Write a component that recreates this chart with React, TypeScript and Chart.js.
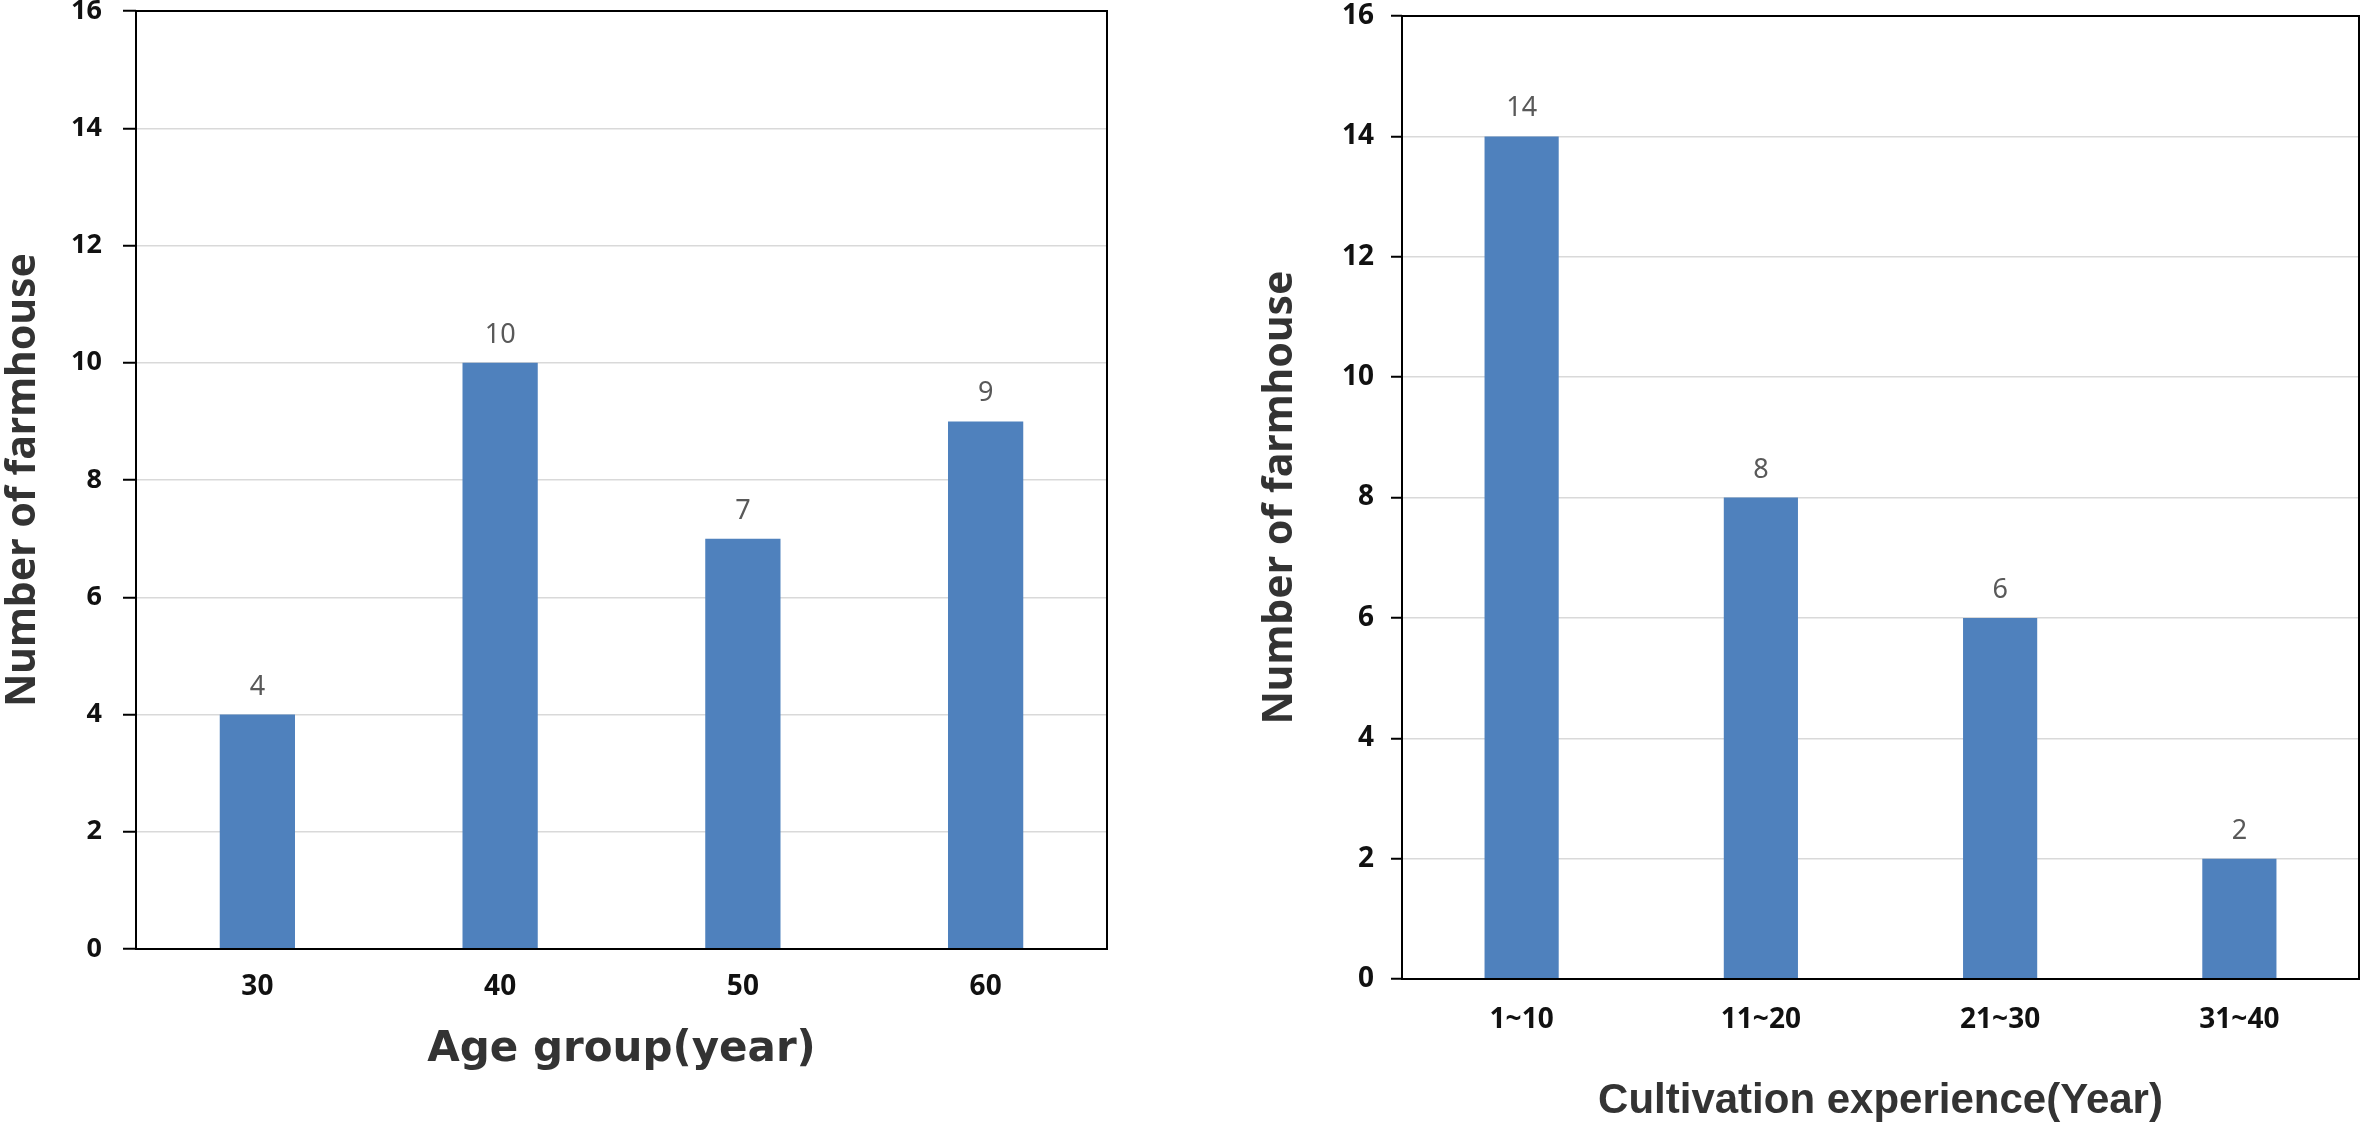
import React, { useEffect, useRef } from 'react';
import { Chart, registerables } from 'chart.js';

Chart.register(...registerables);

// ---- data ----
const ageCategories = ['30', '40', '50', '60'];
const ageCounts = [4, 10, 7, 9];
const expCategories = ['1~10', '11~20', '21~30', '31~40'];
const expCounts = [14, 8, 6, 2];
const yMin = 0;
const yMax = 16;
const yStep = 2;

const BAR_COLOR = '#4f81bd';

const boxPlugin = {
  id: 'plotBox',
  afterDraw(chart: any) {
    const { ctx, chartArea } = chart;
    const { left, top, right, bottom } = chartArea;
    ctx.save();
    ctx.strokeStyle = '#000';
    ctx.lineWidth = 2;
    ctx.strokeRect(left, top, right - left, bottom - top);
    ctx.restore();
  },
};

const valueLabelPlugin = {
  id: 'valueLabels',
  afterDatasetsDraw(chart: any) {
    const { ctx } = chart;
    const meta = chart.getDatasetMeta(0);
    const data = chart.data.datasets[0].data;
    ctx.save();
    ctx.fillStyle = '#595959';
    ctx.font = '27px "Noto Sans"';
    ctx.textAlign = 'center';
    ctx.textBaseline = 'alphabetic';
    meta.data.forEach((bar: any, i: number) => {
      ctx.fillText(String(data[i]), bar.x, bar.y - 20);
    });
    ctx.restore();
  },
};

type PanelProps = {
  left: number;
  width: number;
  height: number;
  labels: string[];
  values: number[];
  xTitle: string;
  yTitle: string;
  plotTop: number;
  plotLeft: number;
  plotRight: number;
  plotBottom: number;
  tickLen: number;
  yTickPad: number;
  yTickSize: number;
  xTickPad: number;
  yTitlePad: number;
  xTitlePad: number;
  xTitleFont: string;
};

function Panel(p: PanelProps) {
  const ref = useRef<HTMLCanvasElement | null>(null);
  useEffect(() => {
    if (!ref.current) return;
    const chart = new Chart(ref.current, {
      type: 'bar',
      data: {
        labels: p.labels,
        datasets: [
          {
            data: p.values,
            backgroundColor: BAR_COLOR,
            borderWidth: 0,
            categoryPercentage: 1,
            barPercentage: 0.31,
          },
        ],
      },
      options: {
        animation: false,
        responsive: true,
        maintainAspectRatio: false,
        devicePixelRatio: 1,
        layout: {
          padding: { left: 0, top: p.plotTop, right: p.width - p.plotRight, bottom: 0 },
        },
        plugins: {
          legend: { display: false },
          tooltip: { enabled: false },
        },
        scales: {
          x: {
            grid: { display: false, drawTicks: false },
            border: { display: false },
            ticks: {
              color: '#111',
              padding: p.xTickPad,
              font: { family: '"Noto Sans"', size: 28, weight: 'bold' },
            },
            title: {
              display: true,
              text: p.xTitle,
              color: '#333',
              padding: { top: 0, bottom: p.xTitlePad },
              font: { family: p.xTitleFont, size: 42, weight: 'bold', lineHeight: 1.2 },
            },
            afterFit: (scale: any) => {
              scale.height = p.height - p.plotBottom;
              scale.paddingLeft = 0;
              scale.paddingRight = 0;
            },
          },
          y: {
            min: yMin,
            max: yMax,
            ticks: {
              stepSize: yStep,
              color: '#111',
              padding: p.yTickPad,
              font: { family: '"Noto Sans"', size: p.yTickSize, weight: 'bold' },
            },
            grid: {
              color: '#d9d9d9',
              lineWidth: 1.5,
              tickColor: '#000',
              tickWidth: 2,
              tickLength: p.tickLen,
            },
            border: { display: false },
            title: {
              display: true,
              text: p.yTitle,
              color: '#333',
              padding: { top: p.yTitlePad, bottom: 0 },
              font: { family: '"Noto Sans"', size: 41, weight: 'bold', lineHeight: 1.0 },
            },
            afterFit: (scale: any) => {
              scale.width = p.plotLeft;
              scale.paddingTop = 0;
              scale.paddingBottom = 0;
            },
          },
        },
      },
      plugins: [boxPlugin, valueLabelPlugin],
    });
    return () => chart.destroy();
  }, []);

  return (
    <div
      style={{
        position: 'absolute',
        left: p.left,
        top: 0,
        width: p.width,
        height: p.height,
      }}
    >
      <canvas ref={ref} />
    </div>
  );
}

export default function App() {
  return (
    <div
      style={{
        position: 'absolute',
        left: 0,
        top: 0,
        width: 2362,
        height: 1128,
        background: '#fff',
        overflow: 'hidden',
      }}
    >
      <Panel
        left={0}
        width={1180}
        height={1128}
        labels={ageCategories}
        values={ageCounts}
        xTitle="Age group(year)"
        yTitle="Number of farmhouse"
        plotTop={11}
        plotLeft={136}
        plotRight={1107}
        plotBottom={949}
        tickLen={13}
        yTickPad={21}
        yTickSize={27}
        xTickPad={21}
        yTitlePad={3}
        xTitlePad={53}
        xTitleFont='"DejaVu Sans"'
      />
      <Panel
        left={1180}
        width={1182}
        height={1128}
        labels={expCategories}
        values={expCounts}
        xTitle="Cultivation experience(Year)"
        yTitle="Number of farmhouse"
        plotTop={16}
        plotLeft={222}
        plotRight={1179}
        plotBottom={979}
        tickLen={11}
        yTickPad={17}
        yTickSize={28}
        xTickPad={24}
        yTitlePad={80}
        xTitlePad={1}
        xTitleFont='"Liberation Sans"'
      />
    </div>
  );
}
